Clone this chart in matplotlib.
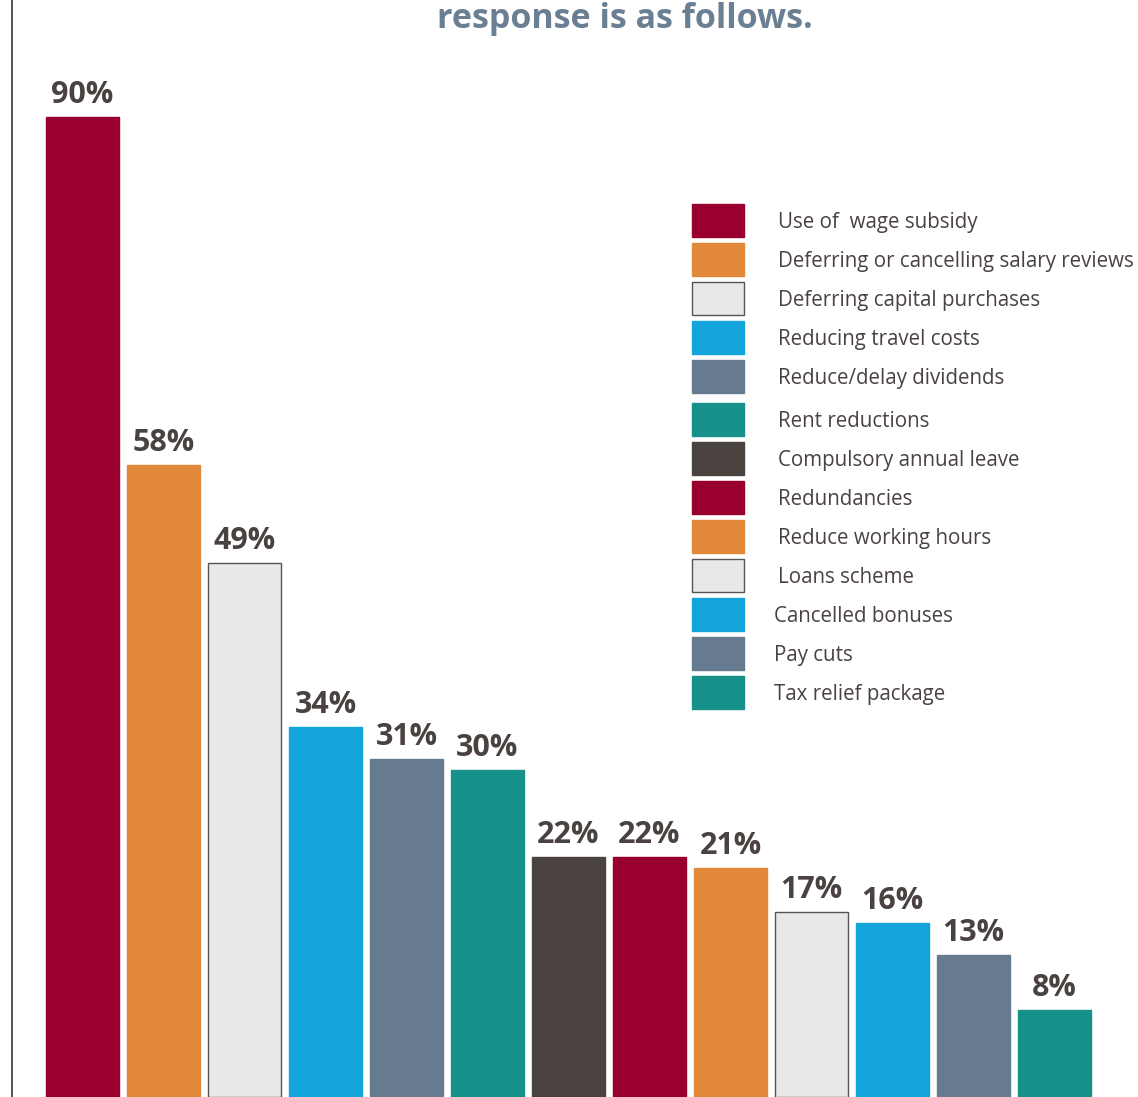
import matplotlib.pyplot as plt
from matplotlib.patches import Rectangle
from matplotlib.lines import Line2D

plt.rcParams['font.family'] = ['Open Sans', 'DejaVu Sans']

# Share of respondents using each measure (%)
measures = [
    "Use of  wage subsidy",
    "Deferring or cancelling salary reviews",
    "Deferring capital purchases",
    "Reducing travel costs",
    "Reduce/delay dividends",
    "Rent reductions",
    "Compulsory annual leave",
    "Redundancies",
    "Reduce working hours",
    "Loans scheme",
    "Cancelled bonuses",
    "Pay cuts",
    "Tax relief package",
]
shares = [90, 58, 49, 34, 31, 30, 22, 22, 21, 17, 16, 13, 8]
colors = ["#990030", "#e2883a", "#e8e8e8", "#14a4dc", "#667b8f", "#16918a", "#4a423f",
          "#990030", "#e2883a", "#e8e8e8", "#14a4dc", "#667b8f", "#16918a"]
edges = ["#555555" if c == "#e8e8e8" else c for c in colors]

text_col = "#4a4240"

W, H = 1138, 1097
fig = plt.figure(figsize=(W / 100, H / 100), dpi=100)
ax = fig.add_axes([0, 0, 1, 1])

# bars every 81 px, first centre at x=82.5 px; 10.89 px per percentage point
pitch, x0, ypp = 81.0, 82.5, 10.89
ax.set_xlim(-x0 / pitch, (W - x0) / pitch)
ax.set_ylim(0, H / ypp)
ax.axis("off")

xs = list(range(len(shares)))
ax.bar(xs, shares, width=73 / pitch, color=colors, edgecolor=edges, linewidth=1)
for x, v in zip(xs, shares):
    ax.annotate(f"{v}%", (x, v), xytext=(0, 5), textcoords="offset points",
                ha="center", va="bottom", fontsize=22, fontweight="bold", color=text_col)

# left rule
fig.add_artist(Line2D([12 / W, 12 / W], [0, 1], color="#333333", linewidth=1.2))

# partial heading
fig.text(625 / W, 1 - 28 / H, "response is as follows.", ha="center", va="baseline",
         fontsize=24.5, fontweight="bold", color="#6b7f93")

# key: swatch column on the right, one row per measure
for i, (name, c, e) in enumerate(zip(measures, colors, edges)):
    yc = 220 + 39 * i + (4 if i >= 5 else 0)
    fig.add_artist(Rectangle((692 / W, 1 - (yc + 16.5) / H), 52 / W, 33 / H,
                             transform=fig.transFigure, facecolor=c, edgecolor=e,
                             linewidth=1))
    tx = 778 if i < 10 else 774
    fig.text(tx / W, 1 - yc / H, name, ha="left", va="center_baseline",
             fontsize=14.8, color=text_col)

fig.savefig("out.png", dpi=100)
